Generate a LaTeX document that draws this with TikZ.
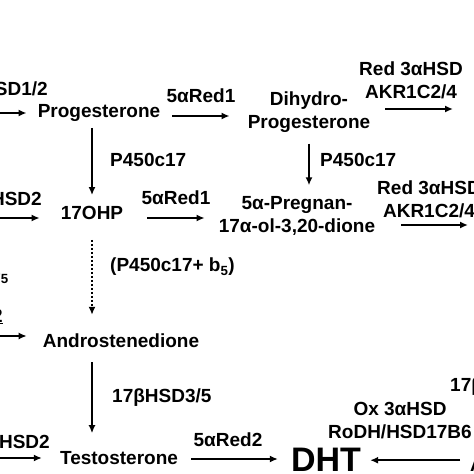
\documentclass[tikz,border=0pt]{standalone}
\usepackage{fontspec}
\setmainfont{Liberation Sans}
\usetikzlibrary{arrows.meta,calc}

\begin{document}
\begin{tikzpicture}[x=1pt,y=-1pt,
    every node/.style={font=\bfseries\fontsize{19}{23}\selectfont,inner sep=0pt,align=center},
    arr/.style={line width=1.8pt,-{Latex[length=8pt,width=7pt]}},
    dots/.style={arr,dash pattern=on 2pt off 2pt}]
  \useasboundingbox (0,0) rectangle (474,474);
  \clip (0,0) rectangle (474,474);
  % left column (cut off)
  \node (lhsda) [anchor=east] at (48,91) {3βHSD1/2};
  \coordinate (lpreg) at (-40,113);
  \node (lhsdb) [anchor=east] at (42,201) {3βHSD2};
  \coordinate (l17p) at (-40,218);
  \node (lcyt) [anchor=east] at (9,275) {(P450c17+ b\textsubscript{5}};
  \node (lund) [anchor=base east] at (3,322) {\underline{2}};
  \coordinate (ldhea) at (-40,336);
  \node (lhsdc) [anchor=east] at (50,444) {3βHSD2};
  \coordinate (ladiol) at (-40,458);
  % middle
  \node (prog) at (99,113) {Progesterone};
  \node (red1a) at (201,96) {5αRed1};
  \node (dihyd) at (309,112) {Dihydro-\\Progesterone};
  \node (pc17a) [anchor=west] at (110,160) {P450c17};
  \node (pc17b) [anchor=west] at (320,160) {P450c17};
  \node (ohp) at (92,213) {17OHP};
  \node (red1b) at (176,198) {5αRed1};
  \node (pregn) at (297,216) {5α-Pregnan-\\17α-ol-3,20-dione};
  \node (cytb) [anchor=west] at (110,267) {(P450c17+ b\textsubscript{5})};
  \node (andro) at (121,341) {Androstenedione};
  \node (hsd35) [anchor=west] at (112,398) {17βHSD3/5};
  \node (testo) at (119,458) {Testosterone};
  \node (red2) at (228,440) {5αRed2};
  \node (dht) [font=\bfseries\fontsize{34}{36}\selectfont] at (326,460) {DHT};
  % right column (cut off)
  \node (reda) at (411,80) {Red 3αHSD\\AKR1C2/4};
  \coordinate (rtop) at (500,109);
  \node (redb) at (429,199) {Red 3αHSD\\AKR1C2/4};
  \coordinate (rmid) at (500,225);
  \node (r17b) [anchor=west] at (450,387) {17βHSD};
  \node (oxhsd) at (400,421) {Ox 3αHSD\\RoDH/HSD17B6};
  \node (adiol) [anchor=base west] at (470,471) {Androstanediol};

  \draw[arr,shorten >=11pt] (lpreg) -- (lpreg -| prog.west);
  \draw[arr,shorten >=21pt] (l17p) -- (l17p -| ohp.west);
  \draw[arr,shorten >=16pt] (ldhea) -- (ldhea -| andro.west);
  \draw[arr,shorten >=18pt] (ladiol) -- (ladiol -| testo.west);

  \draw[arr,shorten <=12pt,shorten >=18pt] ([yshift=-3pt]prog.east) -- ([yshift=-3pt]prog.east -| dihyd.west);
  \draw[arr,shorten <=15pt,shorten >=47pt] ([yshift=3pt]dihyd.east) -- (rtop);
  \draw[arr,shorten <=6pt,shorten >=11pt] (prog.south -| ohp.north) -- (ohp.north);
  \draw[arr,shorten <=11pt,shorten >=11pt] (dihyd.south) -- (dihyd.south |- pregn.north);
  \draw[arr,shorten <=24pt,shorten >=14pt] ([yshift=-5pt]ohp.east) -- ([yshift=-5pt]ohp.east -| pregn.west);
  \draw[arr,shorten <=26pt,shorten >=32pt] ([yshift=-9pt]pregn.east) -- (rmid);
  \draw[dots,shorten <=20pt,shorten >=19pt] (ohp.south) -- (ohp.south |- andro.north);
  \draw[arr,shorten <=14pt,shorten >=18pt] (andro.south -| ohp.south) -- (testo.north -| ohp.south);
  \draw[arr,shorten <=13pt,shorten >=13pt] ([yshift=-1pt]testo.east) -- ([yshift=-1pt]testo.east -| dht.west);
  \draw[arr,shorten <=10pt,shorten >=9pt] ([yshift=4pt]adiol.west) -- ([yshift=4pt]adiol.west -| dht.east);
\end{tikzpicture}
\end{document}
